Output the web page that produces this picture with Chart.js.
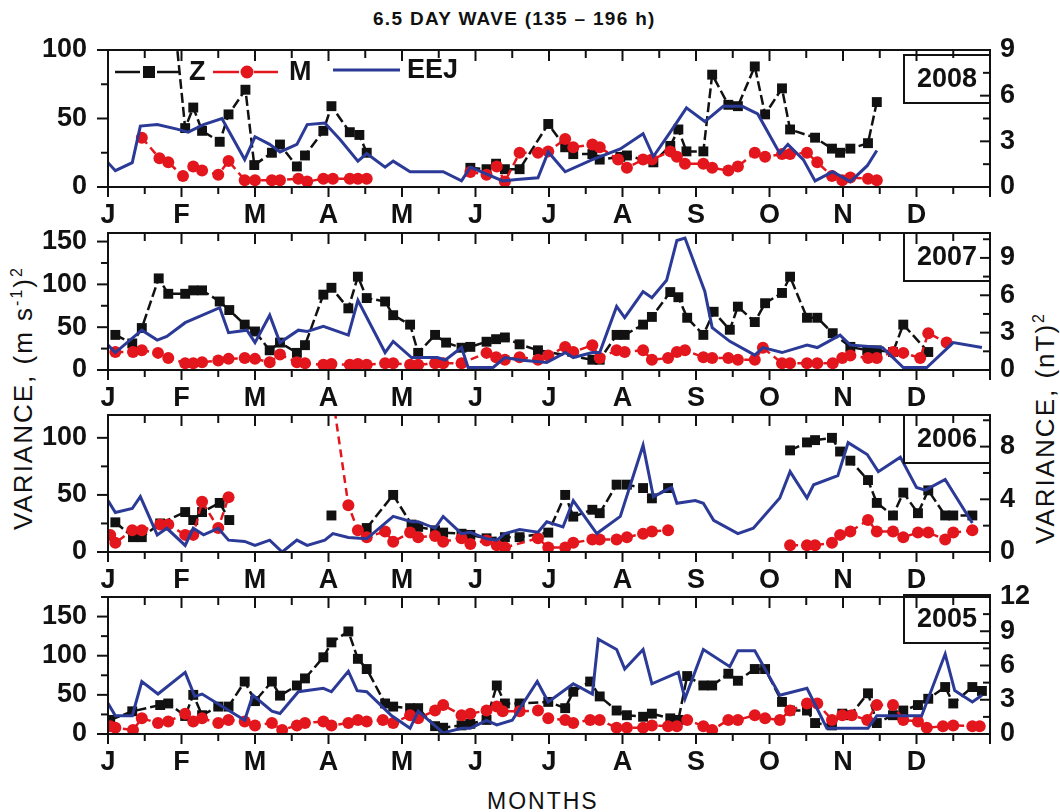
<!DOCTYPE html>
<html>
<head>
<meta charset="utf-8">
<script src="https://cdn.jsdelivr.net/npm/chart.js@4.4.1/dist/chart.umd.min.js"></script>
<style>
  body { margin: 0; background: #fff; }
  #wrap { position: relative; width: 1060px; height: 812px; overflow: hidden; font-family: "Liberation Sans", Arial, sans-serif; color: #111; }
  #wrap canvas { position: absolute; left: 0; }
  .title { position: absolute; top: 8px; left: 373px; font-weight: bold; font-size: 19px; letter-spacing: 1.3px; white-space: nowrap; }
  .months { position: absolute; top: 788px; left: 487px; font-size: 23px; letter-spacing: 2px; white-space: nowrap; }
  .ylab { position: absolute; white-space: nowrap; font-size: 26px; letter-spacing: 2px; transform: translate(-50%, -50%) rotate(-90deg); }
  .ylab sup { font-size: 16px; }
</style>
</head>
<body>
<div id="wrap">
  <div class="title">6.5 DAY WAVE (135 – 196 h)</div>
  <div class="ylab" style="left:23px; top:398px;">VARIANCE, (m s<sup>-1</sup>)<sup>2</sup></div>
  <div class="ylab" style="left:1045px; top:428px;">VARIANCE, (nT)<sup>2</sup></div>
  <div class="months">MONTHS</div>
</div>
<script>
// x values are in months since 1 January (0 = J, 11 = D, 12 = end of year)
const monthLabels = ['J', 'F', 'M', 'A', 'M', 'J', 'J', 'A', 'S', 'O', 'N', 'D'];

// 2008
const z08x = [0.85, 1.05, 1.16, 1.28, 1.52, 1.64, 1.87, 1.99, 2.23, 2.34, 2.57, 2.68, 2.93, 3.04, 3.29, 3.42, 3.52, 4.2, 4.93, 5.15, 5.28, 5.4, 5.6, 5.99, 6.22, 6.33, 6.59, 6.69, 6.97, 7.06, 7.42, 7.65, 7.76, 7.87, 8.1, 8.22, 8.44, 8.57, 8.8, 8.94, 9.17, 9.28, 9.62, 9.85, 9.96, 10.1, 10.34, 10.46];
const z08y = [150, 43, 58, 41, 33, 53, 71, 16, 25, 31, 15, 23, 41, 59, 40, 38, 25, null, 14, 13, 17, 13, 13, 46, 29, 24, 24, 20, 22, 23, 18, 30, 42, 26, 26, 82, 60, 59, 88, 53, 72, 42, 36, 28, 25, 28, 32, 62];
const m08x = [0.46, 0.7, 0.82, 1.02, 1.16, 1.28, 1.5, 1.64, 1.86, 2.0, 2.23, 2.34, 2.59, 2.71, 2.93, 3.06, 3.29, 3.4, 3.52, 4.2, 4.93, 5.15, 5.29, 5.4, 5.6, 5.85, 5.99, 6.22, 6.33, 6.59, 6.69, 6.94, 7.06, 7.28, 7.4, 7.65, 7.74, 7.85, 8.1, 8.22, 8.44, 8.57, 8.8, 8.94, 9.17, 9.28, 9.51, 9.65, 9.85, 9.99, 10.1, 10.34, 10.46];
const m08y = [36, 21, 18, 8, 15, 12, 9, 19, 5, 5, 5, 5, 6, 4, 6, 6, 6, 6, 6, null, 11, 9, 15, 4, 25, 25, 26, 35, 29, 31, 29, 20, 14, 20, 20, 26, 22, 17, 17, 14, 12, 15, 25, 22, 24, 24, 25, 18, 8, 5, 7, 6, 5];
const e08x = [0, 0.1, 0.33, 0.44, 0.67, 0.94, 1.09, 1.3, 1.55, 1.86, 2.0, 2.2, 2.34, 2.57, 2.71, 2.95, 3.16, 3.4, 3.52, 3.77, 3.88, 4.11, 4.56, 4.81, 4.93, 5.37, 5.56, 5.85, 5.99, 6.22, 6.59, 6.97, 7.28, 7.42, 7.65, 7.87, 8.12, 8.37, 8.63, 8.84, 9.14, 9.25, 9.46, 9.62, 9.86, 10.1, 10.33, 10.46];
const e08y = [1.6, 1.07, 1.6, 4.0, 4.1, 3.8, 3.6, 4.1, 4.5, 1.8, 3.3, 2.8, 2.3, 2.8, 4.1, 4.2, 3.1, 1.7, 2.2, 1.3, 1.7, 1.0, 1.0, 0.4, 1.3, 0.4, 0.5, 0.6, 2.3, 1.0, 1.8, 2.5, 3.5, 2.0, 3.6, 5.2, 4.3, 5.3, 5.3, 4.8, 2.2, 2.8, 1.8, 0.4, 1.0, 0.35, 1.4, 2.4];

// 2007
const z07x = [0.1, 0.33, 0.46, 0.69, 0.82, 1.05, 1.16, 1.28, 1.52, 1.65, 1.86, 2.0, 2.2, 2.34, 2.57, 2.68, 2.93, 3.04, 3.27, 3.4, 3.52, 3.77, 3.88, 4.11, 4.22, 4.45, 4.6, 4.81, 4.93, 5.15, 5.28, 5.4, 5.6, 5.85, 6.59, 6.69, 6.92, 7.03, 7.28, 7.4, 7.65, 7.76, 7.88, 8.1, 8.24, 8.46, 8.57, 8.8, 8.94, 9.17, 9.28, 9.51, 9.65, 9.86, 10.1, 10.33, 10.46, 10.68, 10.82, 11.16];
const z07y = [41, 31, 49, 107, 89, 89, 93, 93, 80, 70, 53, 45, 23, 32, 20, 29, 88, 96, 72, 109, 84, 80, 64, 53, 20, 41, 32, 26, 27, 33, 36, 38, 30, 23, 12, 12, 41, 41, 53, 62, 91, 85, 61, 41, 68, 47, 74, 56, 78, 90, 109, 61, 61, 43, 27, 23, 23, 21, 53, 21];
const m07x = [0.1, 0.34, 0.46, 0.68, 0.82, 1.05, 1.16, 1.28, 1.5, 1.64, 1.86, 2.0, 2.2, 2.34, 2.57, 2.68, 2.93, 3.04, 3.29, 3.4, 3.52, 3.77, 3.88, 4.11, 4.22, 4.45, 4.56, 4.81, 5.15, 5.28, 5.4, 5.6, 5.85, 5.99, 6.22, 6.33, 6.59, 6.69, 6.92, 7.03, 7.28, 7.4, 7.62, 7.74, 7.85, 8.1, 8.22, 8.44, 8.57, 8.8, 8.91, 9.17, 9.28, 9.51, 9.65, 9.86, 9.99, 10.1, 10.34, 10.46, 10.68, 10.82, 11.05, 11.16, 11.41];
const m07y = [21, 21, 23, 20, 14, 8, 8, 9, 11, 13, 14, 13, 9, 18, 9, 8, 6, 7, 6, 7, 6, 8, 8, 6, 6, 8, 8, 8, 20, 15, 12, 15, 12, 17, 27, 21, 29, 14, 23, 21, 23, 12, 14, 21, 23, 15, 14, 14, 12, 12, 26, 8, 8, 8, 8, 8, 14, 17, 14, 14, 21, 20, 14, 43, 32];
const e07x = [0, 0.1, 0.46, 0.67, 0.8, 1.05, 1.52, 1.64, 1.89, 2.0, 2.2, 2.34, 2.59, 2.71, 2.93, 3.27, 3.4, 3.77, 3.88, 4.13, 4.48, 4.59, 4.81, 4.9, 5.24, 5.4, 5.6, 5.97, 6.22, 6.33, 6.59, 6.69, 6.92, 7.03, 7.28, 7.4, 7.6, 7.74, 7.85, 8.12, 8.22, 8.46, 8.8, 8.91, 9.17, 9.51, 9.65, 9.96, 10.1, 10.54, 10.82, 11.14, 11.5, 11.89];
const e07y = [2.0, 1.4, 3.2, 2.4, 2.7, 3.8, 5.0, 3.0, 3.2, 2.2, 4.4, 2.2, 3.2, 3.1, 3.5, 2.8, 5.6, 1.4, 2.3, 1.0, 1.0, 0.8, 1.8, 0.2, 0.2, 1.0, 0.8, 0.6, 1.4, 1.0, 1.4, 1.4, 5.1, 4.2, 6.3, 5.8, 7.2, 10.4, 10.6, 6.3, 3.4, 2.3, 1.2, 1.8, 1.4, 2.0, 1.8, 2.8, 2.0, 1.8, 0.2, 0.2, 2.2, 1.8];

// 2006
const z06x = [0.1, 0.34, 0.46, 0.71, 1.05, 1.16, 1.28, 1.52, 1.65, 2.9, 3.04, 3.2, 3.52, 3.88, 4.13, 4.22, 4.45, 4.56, 4.81, 4.93, 5.15, 5.4, 5.6, 5.99, 6.22, 6.33, 6.59, 6.69, 6.92, 7.06, 7.28, 7.4, 7.62, 8.5, 9.28, 9.51, 9.62, 9.85, 9.96, 10.1, 10.34, 10.46, 10.68, 10.82, 11.02, 11.16, 11.39, 11.5, 11.76];
const z06y = [26, 13, 13, 25, 35, 28, 35, 43, 28, null, 32, null, 21, 50, 24, 22, 19, 17, 16, 15, 12, 13, 13, 17, 50, 31, 37, 34, 59, 59, 56, 47, 56, null, 89, 96, 98, 100, 88, 80, 63, 43, 32, 52, 34, 54, 32, 32, 32];
const m06x = [0.03, 0.1, 0.33, 0.46, 0.71, 0.82, 1.05, 1.16, 1.28, 1.5, 1.64, 2.5, 3.06, 3.27, 3.4, 3.52, 3.77, 3.88, 4.11, 4.22, 4.45, 4.56, 4.81, 4.93, 5.15, 5.29, 5.4, 5.85, 5.99, 6.22, 6.33, 6.59, 6.69, 6.92, 7.06, 7.28, 7.4, 7.62, 8.5, 9.28, 9.51, 9.62, 9.85, 9.96, 10.1, 10.34, 10.46, 10.68, 10.82, 11.02, 11.16, 11.39, 11.5, 11.76];
const m06y = [15, 8, 19, 19, 24, 24, 15, 15, 44, 21, 48, null, 135, 41, 19, 13, 18, 9, 17, 13, 14, 9, 12, 7, 10, 6, 4, 12, 4, 4, 8, 11, 11, 11, 13, 16, 18, 19, null, 6, 6, 6, 8, 15, 18, 28, 18, 18, 13, 17, 17, 11, 17, 19];
const e06x = [0, 0.1, 0.33, 0.44, 0.67, 0.8, 1.05, 1.16, 1.3, 1.5, 1.64, 1.86, 2.0, 2.2, 2.37, 2.57, 2.71, 2.95, 3.06, 3.27, 3.52, 3.88, 4.13, 4.22, 4.45, 4.56, 4.81, 4.93, 5.15, 5.29, 5.4, 5.6, 5.85, 5.97, 6.19, 6.33, 6.65, 6.97, 7.28, 7.42, 7.67, 7.74, 7.99, 8.1, 8.24, 8.57, 8.78, 9.14, 9.28, 9.51, 9.6, 9.93, 10.07, 10.33, 10.48, 10.78, 11.0, 11.12, 11.39, 11.76];
const e06y = [3.9, 3.0, 3.3, 4.2, 1.3, 1.8, 0.5, 1.8, 1.3, 1.8, 0.9, 0.8, 0.5, 0.9, 0, 0.9, 0.5, 0.9, 1.4, 1.1, 1.0, 2.7, 2.3, 2.3, 1.8, 2.7, 1.4, 1.5, 1.0, 0.9, 1.4, 1.7, 1.5, 2.3, 1.9, 3.9, 1.4, 2.7, 8.1, 4.2, 4.9, 3.7, 3.9, 3.7, 2.4, 1.4, 1.8, 4.1, 6.1, 4.1, 5.1, 5.8, 8.3, 7.4, 6.1, 7.2, 4.9, 4.7, 5.5, 2.2];

// 2005
const z05x = [0.03, 0.33, 0.71, 0.82, 1.05, 1.16, 1.28, 1.5, 1.64, 1.86, 2.0, 2.23, 2.34, 2.57, 2.68, 2.93, 3.04, 3.27, 3.4, 3.52, 3.77, 3.88, 4.11, 4.22, 4.45, 4.56, 4.81, 4.93, 5.15, 5.29, 5.4, 5.6, 5.99, 6.22, 6.33, 6.56, 6.69, 6.92, 7.06, 7.28, 7.4, 7.65, 7.76, 7.88, 8.1, 8.22, 8.44, 8.57, 8.8, 8.94, 9.17, 9.28, 9.51, 9.62, 9.85, 9.99, 10.1, 10.34, 10.46, 10.68, 10.82, 11.02, 11.16, 11.39, 11.5, 11.76, 11.89];
const z05y = [18, 29, 37, 39, 23, 50, 24, 35, 35, 67, 42, 67, 49, 62, 71, 98, 117, 131, 96, 83, 39, 35, 33, 33, 10, 8, 11, 13, 18, 62, 39, 39, 41, 33, 54, 67, 48, 30, 24, 22, 26, 20, 18, 74, 62, 62, 77, 68, 83, 83, 41, 30, 30, 14, 11, 26, 24, 52, 14, 24, 30, 37, 45, 60, 39, 60, 55];
const m05x = [0.03, 0.1, 0.34, 0.46, 0.68, 0.82, 1.05, 1.16, 1.28, 1.5, 1.64, 1.86, 2.0, 2.23, 2.37, 2.57, 2.68, 2.93, 3.04, 3.27, 3.4, 3.52, 3.74, 3.88, 4.11, 4.22, 4.45, 4.56, 4.81, 4.93, 5.15, 5.29, 5.37, 5.6, 5.85, 5.99, 6.22, 6.33, 6.56, 6.69, 6.92, 7.06, 7.28, 7.4, 7.62, 7.74, 7.88, 8.1, 8.22, 8.44, 8.57, 8.8, 8.94, 9.14, 9.28, 9.51, 9.65, 9.85, 9.99, 10.12, 10.33, 10.46, 10.68, 10.82, 11.02, 11.14, 11.36, 11.5, 11.76, 11.86];
const m05y = [10, 8, 5, 20, 14, 16, 26, 16, 20, 14, 18, 16, 11, 14, 5, 11, 14, 16, 11, 14, 18, 16, 18, 14, 24, 20, 30, 37, 24, 26, 30, 35, 29, 29, 30, 20, 18, 14, 18, 18, 8, 8, 8, 11, 10, 10, 18, 10, 5, 18, 18, 24, 20, 18, 30, 39, 39, 18, 24, 24, 18, 37, 37, 18, 16, 8, 10, 11, 10, 10];
const e05x = [0, 0.1, 0.33, 0.46, 0.68, 1.05, 1.18, 1.28, 1.86, 1.97, 2.23, 2.34, 2.59, 2.93, 3.04, 3.27, 3.39, 3.52, 3.86, 4.11, 4.22, 4.56, 4.81, 4.93, 5.15, 5.29, 5.5, 5.84, 5.99, 6.33, 6.59, 6.67, 6.92, 7.03, 7.28, 7.4, 7.76, 7.85, 8.1, 8.46, 8.57, 8.8, 9.14, 9.51, 9.78, 10.34, 10.46, 11.07, 11.39, 11.52, 11.76, 11.89];
const e05y = [2.7, 1.6, 1.6, 4.6, 3.5, 5.4, 3.3, 3.5, 1.2, 3.4, 2.0, 1.8, 3.7, 4.0, 3.7, 5.5, 3.8, 3.7, 1.6, 0.5, 2.0, 0.1, 0.5, 0.5, 1.2, 0.8, 1.2, 4.6, 2.8, 4.4, 3.5, 8.3, 7.4, 5.7, 7.4, 4.4, 5.4, 3.1, 7.4, 5.9, 7.3, 7.3, 3.4, 4.0, 0.5, 0.5, 1.6, 1.6, 7.0, 3.8, 2.8, 3.4];

// panel layout (top of plot area in page px) and axis ranges
const panels = [
  { year: '2008', top: 50,  leftMax: 100, rightMax: 9,    rightStep: 3, boxOff: 5,  legend: true,  z: [z08x, z08y], m: [m08x, m08y], e: [e08x, e08y] },
  { year: '2007', top: 233, leftMax: 160, rightMax: 11,   rightStep: 3, boxOff: 0,  legend: false, z: [z07x, z07y], m: [m07x, m07y], e: [e07x, e07y] },
  { year: '2006', top: 415, leftMax: 120, rightMax: 10.4, rightStep: 4, boxOff: 0,  legend: false, z: [z06x, z06y], m: [m06x, m06y], e: [e06x, e06y] },
  { year: '2005', top: 597, leftMax: 175, rightMax: 12,   rightStep: 3, boxOff: -2, legend: false, z: [z05x, z05y], m: [m05x, m05y], e: [e05x, e05y] }
];

// chart.js reserves half a label height plus tick padding above the plot
const PAD_TOP = 38, PLOT_H = 137, X_AXIS_H = 40;
const FONT = "'Liberation Sans', Arial, sans-serif";
const BLACK = '#111111', RED = '#e2161c', BLUE = '#2b3a96';

function pts(pair) {
  const [xs, ys] = pair;
  if (xs.length !== ys.length) throw new Error('length mismatch ' + xs.length + ' ' + ys.length);
  return xs.map((x, i) => ({ x: x, y: ys[i] }));
}

const framePlugin = {
  id: 'frame',
  afterDatasetsDraw(chart, args, opts) {
    const { ctx, chartArea: a, scales } = chart;
    ctx.save();
    ctx.strokeStyle = BLACK;
    ctx.fillStyle = BLACK;
    ctx.lineWidth = 2;
    ctx.setLineDash([]);
    const line = (x1, y1, x2, y2) => { ctx.beginPath(); ctx.moveTo(x1, y1); ctx.lineTo(x2, y2); ctx.stroke(); };

    // year box
    const bw = 86, bh = 48, by = a.top + opts.boxOff;
    ctx.fillStyle = '#fff';
    ctx.fillRect(a.right - bw, by, bw, bh);
    ctx.strokeRect(a.right - bw, by, bw, bh);
    ctx.fillStyle = BLACK;
    ctx.font = 'bold 27px ' + FONT;
    ctx.textAlign = 'center';
    ctx.textBaseline = 'middle';
    ctx.fillText(opts.year, a.right - bw / 2, by + bh / 2 + 1);

    // frame
    ctx.strokeRect(a.left, a.top, a.right - a.left, a.bottom - a.top);

    // month ticks: outward at bottom, inward at top
    for (let m = 0; m <= 12; m += 0.5) {
      const px = scales.x.getPixelForValue(m);
      const major = Number.isInteger(m);
      line(px, a.bottom, px, a.bottom + (major ? 10 : 7));
      line(px, a.top, px, a.top + (major ? 11 : 8));
    }
    // left ticks outward
    const ys = scales.y;
    for (let v = 0; v <= ys.max + 0.01; v += 25) {
      const py = ys.getPixelForValue(v);
      line(a.left, py, a.left - (v % 50 === 0 ? 11 : 7), py);
    }
    // right ticks inward
    const yr = scales.y1, st = opts.rightStep / 2;
    for (let k = 0; k * st <= yr.max + 0.01; k++) {
      const py = yr.getPixelForValue(k * st);
      line(a.right, py, a.right - (k % 2 === 0 ? 10 : 7), py);
    }

    // legend (first panel only)
    if (opts.legend) {
      const ds = chart.data.datasets;
      const z = ds[2], mm = ds[1], e = ds[0];
      const cy = a.top + 22;
      ctx.font = 'bold 27px ' + FONT;
      ctx.textAlign = 'left';
      ctx.textBaseline = 'middle';

      ctx.strokeStyle = z.borderColor; ctx.lineWidth = 2.5;
      line(a.left + 7, cy, a.left + 32, cy);
      line(a.left + 49, cy, a.left + 72, cy);
      ctx.fillStyle = z.backgroundColor;
      ctx.fillRect(a.left + 35, cy - 6, 12, 12);
      ctx.fillStyle = BLACK;
      ctx.fillText('Z', a.left + 81, cy + 1);

      ctx.strokeStyle = mm.borderColor;
      line(a.left + 105, cy, a.left + 131, cy);
      line(a.left + 146, cy, a.left + 170, cy);
      ctx.fillStyle = mm.backgroundColor;
      ctx.beginPath(); ctx.arc(a.left + 139, cy, 6.5, 0, Math.PI * 2); ctx.fill();
      ctx.fillStyle = BLACK;
      ctx.fillText('M', a.left + 181, cy + 1);

      ctx.strokeStyle = e.borderColor; ctx.lineWidth = 3;
      line(a.left + 225, cy - 2, a.left + 292, cy - 2);
      ctx.fillStyle = BLACK;
      ctx.fillText('EEJ', a.left + 299, cy - 1);
    }
    ctx.restore();
  }
};

const wrap = document.getElementById('wrap');

panels.forEach((p) => {
  const canvas = document.createElement('canvas');
  canvas.width = 1060;
  canvas.height = PAD_TOP + PLOT_H + X_AXIS_H;
  canvas.style.top = (p.top - PAD_TOP) + 'px';
  wrap.appendChild(canvas);

  const tickFont = { family: FONT, size: 27, weight: 'bold' };

  new Chart(canvas.getContext('2d'), {
    type: 'line',
    data: {
      datasets: [
        {
          label: 'EEJ', data: pts(p.e), yAxisID: 'y1',
          borderColor: BLUE, backgroundColor: BLUE, borderWidth: 3,
          pointRadius: 0, tension: 0, spanGaps: false
        },
        {
          label: 'M', data: pts(p.m), yAxisID: 'y',
          borderColor: RED, backgroundColor: RED, borderWidth: 2.5, borderDash: [8, 5],
          pointStyle: 'circle', pointRadius: 6, pointBorderWidth: 0, tension: 0, spanGaps: false
        },
        {
          label: 'Z', data: pts(p.z), yAxisID: 'y',
          borderColor: BLACK, backgroundColor: BLACK, borderWidth: 2.5, borderDash: [10, 4],
          pointStyle: 'rect', pointRadius: 7, pointBorderWidth: 0, tension: 0, spanGaps: false
        }
      ]
    },
    options: {
      responsive: false,
      animation: false,
      devicePixelRatio: 1,
      events: [],
      layout: { padding: { top: PAD_TOP, left: 0, right: 0, bottom: 0 } },
      plugins: {
        legend: { display: false },
        tooltip: { enabled: false },
        frame: { year: p.year, boxOff: p.boxOff, rightStep: p.rightStep, legend: p.legend }
      },
      scales: {
        x: {
          type: 'linear', position: 'bottom', min: 0, max: 12,
          afterFit: (s) => { s.height = X_AXIS_H; },
          grid: { display: false, drawTicks: false },
          border: { display: false },
          ticks: {
            stepSize: 1, autoSkip: false, maxRotation: 0, padding: 12,
            color: BLACK, font: tickFont,
            callback: (v) => monthLabels[Math.round(v)] || ''
          }
        },
        y: {
          position: 'left', min: 0, max: p.leftMax,
          afterFit: (s) => { s.width = 108; },
          grid: { display: false, drawTicks: false },
          border: { display: false },
          ticks: { stepSize: 50, autoSkip: false, includeBounds: false, padding: 21, color: BLACK, font: tickFont }
        },
        y1: {
          position: 'right', min: 0, max: p.rightMax,
          afterFit: (s) => { s.width = 70; },
          grid: { display: false, drawTicks: false },
          border: { display: false },
          ticks: { stepSize: p.rightStep, autoSkip: false, includeBounds: false, padding: 10, color: BLACK, font: tickFont }
        }
      }
    },
    plugins: [framePlugin]
  });
});
</script>
</body>
</html>
